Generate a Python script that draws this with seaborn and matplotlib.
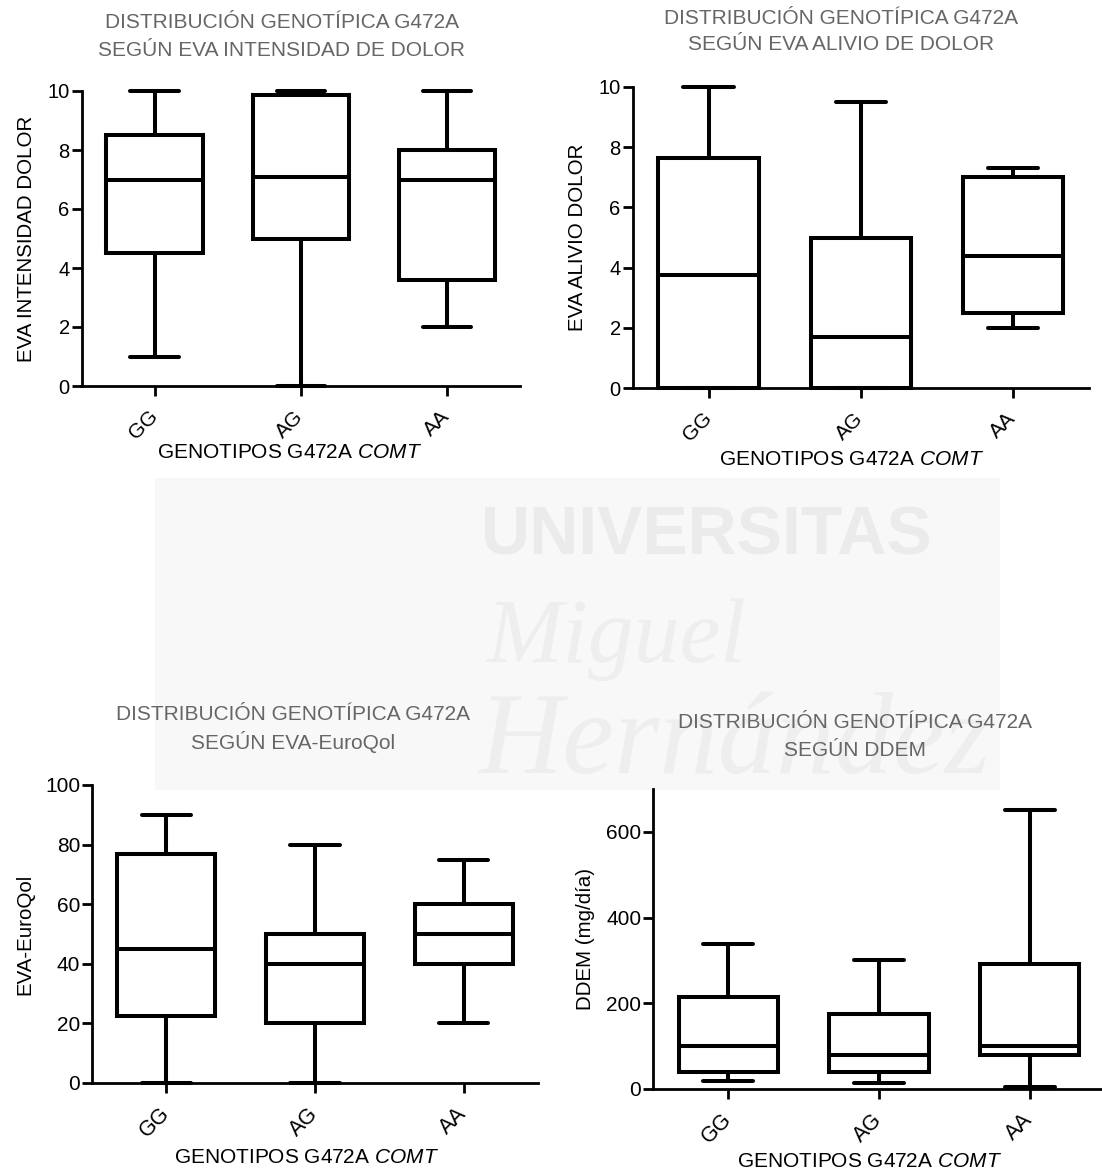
import numpy as np
import pandas as pd
import matplotlib
matplotlib.use("Agg")
import matplotlib.pyplot as plt
from matplotlib.patches import Rectangle
import seaborn as sns

# ---------------- data (five-number summaries: min, Q1, median, Q3, max) ----------------
GENOTIPOS = ["GG", "AG", "AA"]

EVA_INTENSIDAD_GG = [1.0, 4.5, 7.0, 8.5, 10.0]
EVA_INTENSIDAD_AG = [0.0, 5.0, 7.1, 9.85, 10.0]
EVA_INTENSIDAD_AA = [2.0, 3.6, 7.0, 8.0, 10.0]

EVA_ALIVIO_GG = [0.0, 0.0, 3.75, 7.65, 10.0]
EVA_ALIVIO_AG = [0.0, 0.0, 1.7, 5.0, 9.5]
EVA_ALIVIO_AA = [2.0, 2.5, 4.4, 7.0, 7.3]

EUROQOL_GG = [0.0, 22.5, 45.0, 77.0, 90.0]
EUROQOL_AG = [0.0, 20.0, 40.0, 50.0, 80.0]
EUROQOL_AA = [20.0, 40.0, 50.0, 60.0, 75.0]

DDEM_GG = [19.0, 40.0, 100.0, 215.0, 338.0]
DDEM_AG = [14.0, 40.0, 79.0, 175.0, 301.0]
DDEM_AA = [5.0, 80.0, 100.0, 292.0, 650.0]

TITULO_1 = "DISTRIBUCIÓN GENOTÍPICA G472A"
SUBTITULOS = ["SEGÚN EVA INTENSIDAD DE DOLOR", "SEGÚN EVA ALIVIO DE DOLOR",
              "SEGÚN EVA-EuroQol", "SEGÚN DDEM"]
YLABELS = ["EVA INTENSIDAD DOLOR", "EVA ALIVIO DOLOR", "EVA-EuroQol", "DDEM (mg/día)"]
XLABEL = "GENOTIPOS G472A $\\mathit{COMT}$"

# ---------------- style ----------------
sns.set_theme(style="ticks", rc={"axes.edgecolor": "black", "xtick.color": "black",
                                 "ytick.color": "black", "text.color": "black",
                                 "axes.labelcolor": "black"})
plt.rcParams["font.family"] = ["Liberation Sans", "DejaVu Sans"]
plt.rcParams["mathtext.fontset"] = "custom"
plt.rcParams["mathtext.rm"] = "Liberation Sans"
plt.rcParams["mathtext.it"] = "Liberation Sans:italic"

W, H = 1102, 1176
fig = plt.figure(figsize=(W / 100, H / 100), dpi=100)


def px_rect(left, right, top, bottom):
    return [left / W, 1 - bottom / H, (right - left) / W, (bottom - top) / H]


# ---------------- watermark (faint background) ----------------
fig.patches.append(Rectangle((155 / W, 1 - 790 / H), 845 / W, 312 / H,
                             transform=fig.transFigure, facecolor="#f8f8f8",
                             edgecolor="none", zorder=-3))
fig.text(481 / W, 1 - 536 / H, "UNIVERSITAS", ha="left", va="center",
         fontsize=49, fontweight="bold", color="#ebebeb", zorder=-2,
         family=["Liberation Sans Narrow", "Liberation Sans"])
fig.text(486 / W, 1 - 640 / H, "Miguel", ha="left", va="center",
         fontsize=66, fontstyle="italic", color="#eeeeee", zorder=-2,
         family=["Liberation Serif", "DejaVu Serif"])
fig.text(478 / W, 1 - 745 / H, "Hernández", ha="left", va="center",
         fontsize=84, fontstyle="italic", color="#eeeeee", zorder=-2,
         family=["Liberation Serif", "DejaVu Serif"])

panels = [
    dict(series=[EVA_INTENSIDAD_GG, EVA_INTENSIDAD_AG, EVA_INTENSIDAD_AA],
         rect=px_rect(81.5, 520, 91, 386), ylim=(0, 10), yticks=[0, 2, 4, 6, 8, 10],
         title_xy=(282, 23, 50), ylab_x=-0.104, xlab_xy=(0.475, -0.193), tick_fs=14.5),
    dict(series=[EVA_ALIVIO_GG, EVA_ALIVIO_AG, EVA_ALIVIO_AA],
         rect=px_rect(632.5, 1089, 87, 388), ylim=(0, 10), yticks=[0, 2, 4, 6, 8, 10],
         title_xy=(841, 18, 45), ylab_x=-0.100, xlab_xy=(0.48, -0.206), tick_fs=14.5),
    dict(series=[EUROQOL_GG, EUROQOL_AG, EUROQOL_AA],
         rect=px_rect(92, 538, 785, 1083), ylim=(0, 100), yticks=[0, 20, 40, 60, 80, 100],
         title_xy=(293, 715, 742), ylab_x=-0.130, xlab_xy=(0.48, -0.218), tick_fs=15),
    dict(series=[DDEM_GG, DDEM_AG, DDEM_AA],
         rect=px_rect(653, 1105, 789, 1089), ylim=(0, 700), yticks=[0, 200, 400, 600],
         title_xy=(855, 723, 750), ylab_x=-0.128, xlab_xy=(0.478, -0.21), tick_fs=15),
]

for i, p in enumerate(panels):
    ax = fig.add_axes(p["rect"])
    ax.set_facecolor("none")
    df = pd.DataFrame({
        "Genotipo": np.repeat(GENOTIPOS, [len(s) for s in p["series"]]),
        "Valor": np.concatenate(p["series"]),
    })
    sns.boxplot(data=df, x="Genotipo", y="Valor", order=GENOTIPOS, ax=ax,
                color="white", linecolor="black", linewidth=2.9, width=0.66,
                whis=(0, 100), fliersize=0, saturation=1)
    for art in list(ax.lines) + list(ax.patches):
        art.set_clip_on(False)

    ax.set_xlim(-0.5, 2.5)
    ax.set_ylim(*p["ylim"])
    ax.set_yticks(p["yticks"])
    sns.despine(ax=ax)
    for s in ("left", "bottom"):
        ax.spines[s].set_linewidth(2.0)
    ax.tick_params(axis="y", length=7, width=2.0, pad=1.5, labelsize=p["tick_fs"])
    ax.tick_params(axis="x", length=7, width=2.0, pad=13, labelsize=p["tick_fs"] + 0.5)
    plt.setp(ax.get_xticklabels(), rotation=45, ha="right", va="center",
             rotation_mode="anchor")

    ax.set_ylabel(YLABELS[i], fontsize=14.8)
    ax.yaxis.set_label_coords(p["ylab_x"], 0.5)
    ax.set_xlabel(XLABEL, fontsize=15)
    ax.xaxis.set_label_coords(*p["xlab_xy"])

    tx, ty1, ty2 = p["title_xy"]
    fig.text(tx / W, 1 - ty1 / H, TITULO_1, ha="center", va="center",
             fontsize=15, color="#666666")
    fig.text(tx / W, 1 - ty2 / H, SUBTITULOS[i], ha="center", va="center",
             fontsize=15, color="#666666")

fig.savefig("out.png", dpi=100)
